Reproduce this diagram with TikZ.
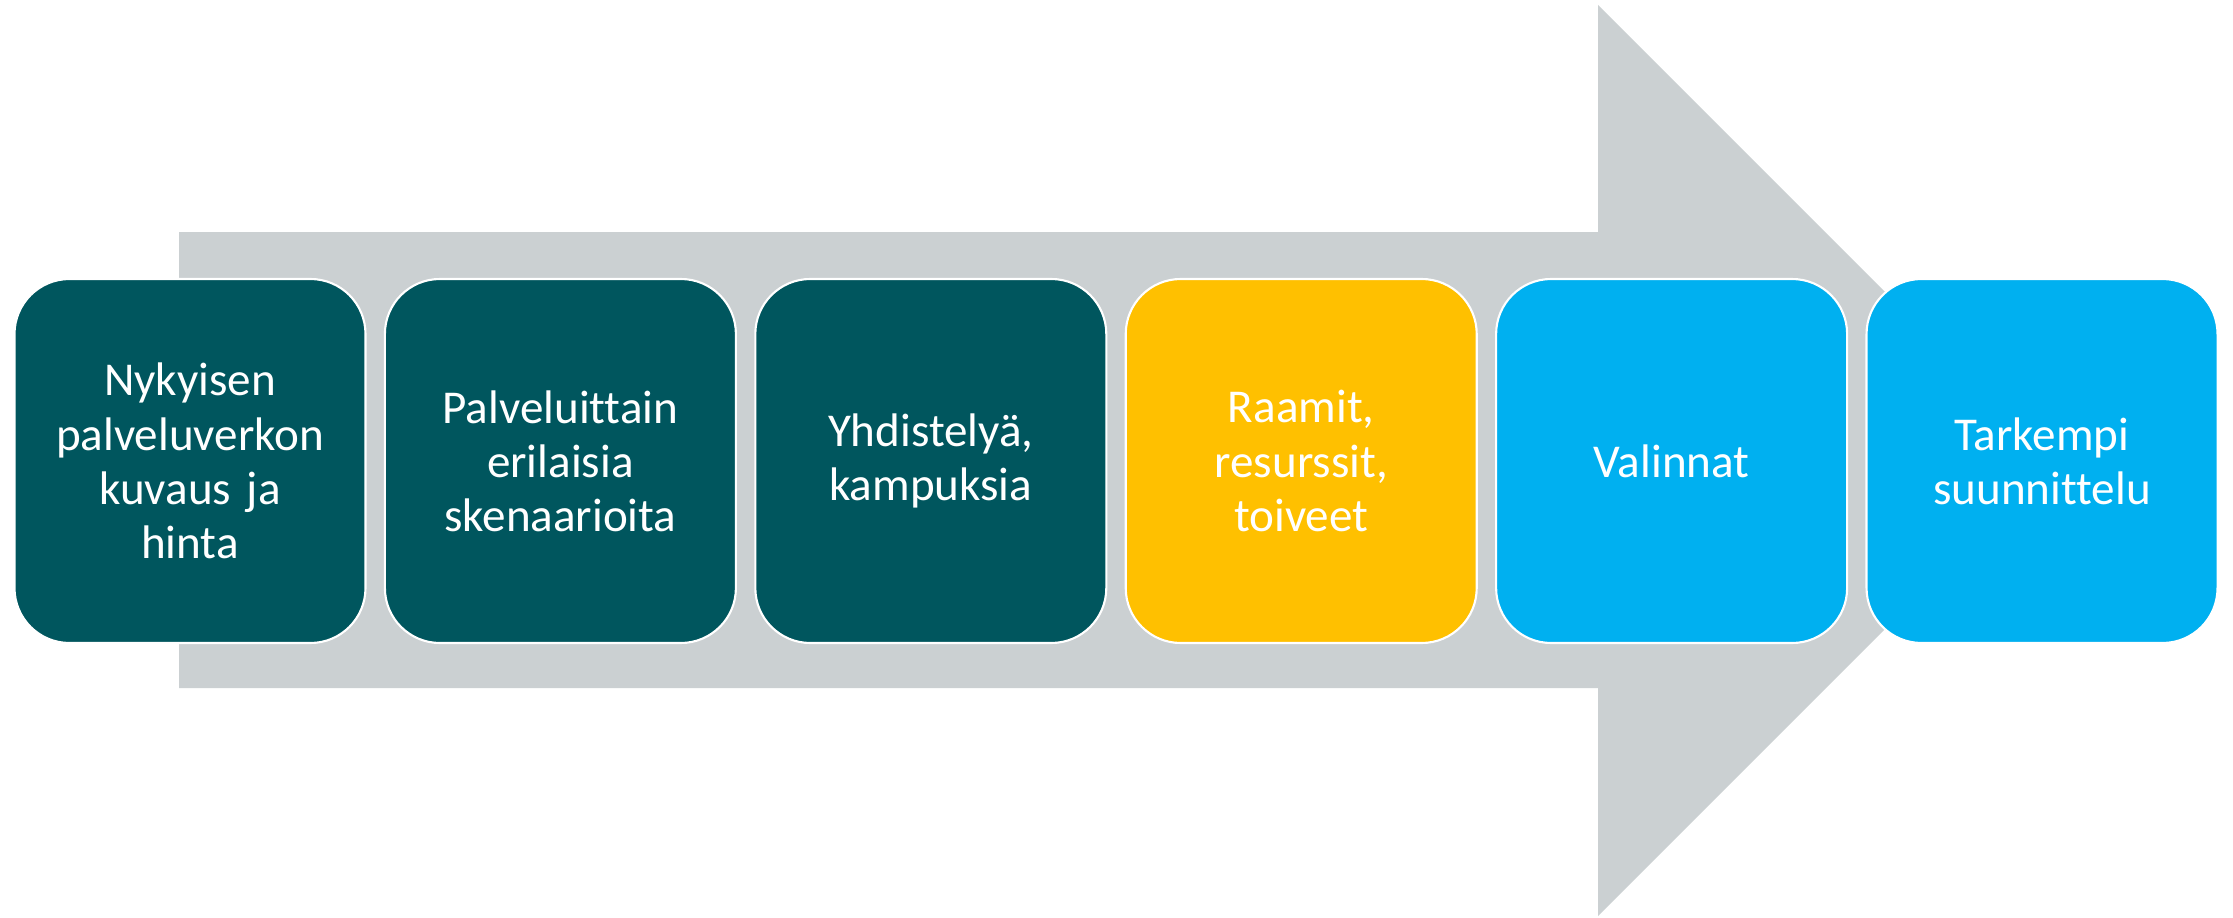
\documentclass[tikz,border=0pt]{standalone}
\usepackage{fontspec}
\setmainfont[Ligatures=NoCommon]{Carlito}
\usetikzlibrary{positioning}
\definecolor{teal}{HTML}{00565E}
\definecolor{gold}{HTML}{FFC000}
\definecolor{sky}{HTML}{00B0F0}
\definecolor{arrowgray}{HTML}{CBD0D2}
\begin{document}
\begin{tikzpicture}[node distance={1.73mm}, main/.style = {draw=white, line width=0.6pt, rounded corners=5.5mm, minimum width=3.51cm, minimum height=3.64cm, inner sep=0pt, text width=3.4cm, align=center, text=white, font=\fontsize{13.4}{15.4}\selectfont}]
    \useasboundingbox (0,0) rectangle (22.33,9.17);
    \fill[arrowgray] (1.79,6.85) -- (15.98,6.85) -- (15.98,9.12) -- (20.535,4.565) -- (15.98,0.01) -- (15.98,2.29) -- (1.79,2.29) -- cycle;
    \node[main, fill=teal] (1) at (1.9,4.56) {Nykyisen\\palveluverkon\\kuvaus ja\\hinta};
    \node[main, fill=teal] (2)[right=of 1] {Palveluittain\\erilaisia\\skenaarioita};
    \node[main, fill=teal] (3)[right=of 2] {Yhdistelyä,\\kampuksia};
    \node[main, fill=gold] (4)[right=of 3] {Raamit,\\resurssit,\\toiveet};
    \node[main, fill=sky] (5)[right=of 4] {Valinnat};
    \node[main, fill=sky] (6)[right=of 5] {Tarkempi\\suunnittelu};
    \end{tikzpicture}
\end{document}
